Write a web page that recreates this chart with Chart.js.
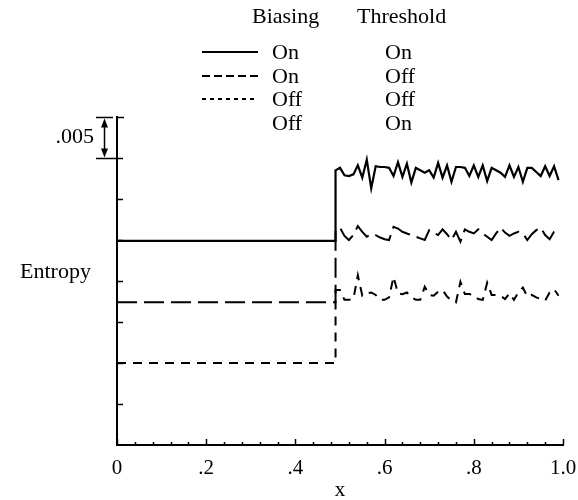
<!DOCTYPE html>
<html>
<head>
<meta charset="utf-8">
<script src="https://cdn.jsdelivr.net/npm/chart.js@4"></script>
<style>
  html, body { margin: 0; padding: 0; background: #fff; }
  #wrap { width: 578px; height: 500px; }
</style>
</head>
<body>
<div id="wrap"><canvas id="entropyChart" width="578" height="500"></canvas></div>
<script>
// x positions: flat part before the jump, wavy part after it
var xLeft = [0, 0.49];
var xRight = [0.49, 0.50, 0.51, 0.52, 0.53, 0.54, 0.55, 0.56, 0.57, 0.58,
  0.59, 0.60, 0.61, 0.62, 0.63, 0.64, 0.65, 0.66, 0.67, 0.68,
  0.69, 0.70, 0.71, 0.72, 0.73, 0.74, 0.75, 0.76, 0.77, 0.78,
  0.79, 0.80, 0.81, 0.82, 0.83, 0.84, 0.85, 0.86, 0.87, 0.88,
  0.89, 0.90, 0.91, 0.92, 0.93, 0.94, 0.95, 0.96, 0.97, 0.98, 0.99];

// biasing on / threshold on
var onOnLeft = [0.0249, 0.0249];
var onOnRight = [0.0335, 0.0338, 0.0329, 0.0328, 0.0330, 0.0341, 0.0326, 0.0348, 0.0313, 0.0340,
  0.0339, 0.0339, 0.0338, 0.0328, 0.0345, 0.0327, 0.0343, 0.0320, 0.0338, 0.0335,
  0.0332, 0.0335, 0.0326, 0.0344, 0.0326, 0.0341, 0.0321, 0.0339, 0.0339, 0.0338,
  0.0328, 0.0341, 0.0327, 0.0341, 0.0322, 0.0338, 0.0335, 0.0332, 0.0327, 0.0341,
  0.0327, 0.0339, 0.0321, 0.0338, 0.0338, 0.0333, 0.0328, 0.0340, 0.0328, 0.0340, 0.0323];

// biasing on / threshold off
var onOffLeft = [0.0174, 0.0174];
var onOffRight = [0.0262, 0.0265, 0.0255, 0.0250, 0.0256, 0.0267, 0.0260, 0.0254, 0.0257, 0.0256,
  0.0253, 0.0251, 0.0250, 0.0266, 0.0264, 0.0260, 0.0258, 0.0256, 0.0254, 0.0252,
  0.0250, 0.0262, 0.0259, 0.0256, 0.0263, 0.0257, 0.0250, 0.0260, 0.0248, 0.0263,
  0.0260, 0.0258, 0.0263, 0.0258, 0.0254, 0.0250, 0.0258, 0.0265, 0.0259, 0.0255,
  0.0258, 0.0260, 0.0258, 0.0250, 0.0257, 0.0262, 0.0265, 0.0256, 0.0251, 0.0260, 0.0264];

// biasing off / threshold off
var offOffLeft = [0.0100, 0.0100];
var offOffRight = [0.0189, 0.0189, 0.0177, 0.0177, 0.0178, 0.0207, 0.0182, 0.0185, 0.0186, 0.0183,
  0.0177, 0.0177, 0.0180, 0.0205, 0.0185, 0.0184, 0.0186, 0.0180, 0.0177, 0.0177,
  0.0193, 0.0183, 0.0182, 0.0187, 0.0189, 0.0181, 0.0176, 0.0174, 0.0199, 0.0184,
  0.0184, 0.0183, 0.0178, 0.0177, 0.0198, 0.0183, 0.0183, 0.0182, 0.0178, 0.0185,
  0.0177, 0.0186, 0.0192, 0.0181, 0.0183, 0.0180, 0.0178, 0.0176, 0.0186, 0.0190, 0.0182];

var xTicks = [0, 0.2, 0.4, 0.6, 0.8, 1.0];
var xTickLabels = ['0', '.2', '.4', '.6', '.8', '1.0'];
var yStep = 0.005;
var legendHead = ['Biasing', 'Threshold'];
var legendBiasing = ['On', 'On', 'Off', 'Off'];
var legendThreshold = ['On', 'Off', 'Off', 'On'];

var SERIF = '"Liberation Serif", "Times New Roman", serif';

function toPoints(xsA, ysA, xsB, ysB) {
  var pts = [];
  for (var i = 0; i < xsA.length; i++) pts.push({ x: xsA[i], y: ysA[i] });
  for (var j = 0; j < xsB.length; j++) pts.push({ x: xsB[j], y: ysB[j] });
  return pts;
}

var framePlugin = {
  id: 'frame',
  afterDraw: function (chart) {
    var ctx = chart.ctx;
    var xs = chart.scales.x, ys = chart.scales.y;
    var left = chart.chartArea.left, bottom = chart.chartArea.bottom;
    ctx.save();
    ctx.strokeStyle = '#000';
    ctx.fillStyle = '#000';
    ctx.lineWidth = 1.5;

    // inward ticks on the y axis
    for (var v = yStep; v < ys.max - 1e-9; v += yStep) {
      var py = Math.round(ys.getPixelForValue(v)) + 0.5;
      ctx.beginPath(); ctx.moveTo(left, py); ctx.lineTo(left + 6, py); ctx.stroke();
    }
    var top = Math.round(ys.getPixelForValue(ys.max)) + 0.5;
    ctx.beginPath(); ctx.moveTo(left - 1, top); ctx.lineTo(left + 7, top); ctx.stroke();

    // inward ticks on the x axis
    for (var i = 0; i <= 25; i++) {
      var px = Math.round(xs.getPixelForValue(i * 0.04)) + 0.5;
      var len = (i % 5 === 0) ? 6 : 3;
      ctx.beginPath(); ctx.moveTo(px, bottom); ctx.lineTo(px, bottom - len); ctx.stroke();
    }

    // .005 scale bar
    var yA = top, yB = Math.round(ys.getPixelForValue(ys.max - yStep)) + 0.5;
    ctx.beginPath();
    ctx.moveTo(96, yA); ctx.lineTo(113, yA);
    ctx.moveTo(96, yB); ctx.lineTo(left, yB);
    ctx.moveTo(104.5, yA + 6); ctx.lineTo(104.5, yB - 6);
    ctx.stroke();
    ctx.beginPath();
    ctx.moveTo(104.5, yA + 1); ctx.lineTo(101, yA + 10); ctx.lineTo(108, yA + 10); ctx.closePath();
    ctx.moveTo(104.5, yB - 1); ctx.lineTo(101, yB - 10); ctx.lineTo(108, yB - 10); ctx.closePath();
    ctx.fill();

    ctx.font = '22px ' + SERIF;
    ctx.textBaseline = 'middle';
    ctx.textAlign = 'right';
    ctx.fillText('.005', 94, 137);
    ctx.textAlign = 'left';
    ctx.fillText('Entropy', 20, 272);

    // legend table
    ctx.fillText(legendHead[0], 252, 17);
    ctx.fillText(legendHead[1], 357, 17);
    var rowY = [52, 76, 99, 123];
    var dashes = [[], [8, 4], [4, 4]];
    ctx.lineWidth = 2;
    for (var r = 0; r < rowY.length; r++) {
      if (r < dashes.length) {
        ctx.setLineDash(dashes[r]);
        ctx.beginPath(); ctx.moveTo(202, rowY[r]); ctx.lineTo(258, rowY[r]); ctx.stroke();
        ctx.setLineDash([]);
      }
      ctx.fillText(legendBiasing[r], 272, rowY[r] + 1);
      ctx.fillText(legendThreshold[r], 385, rowY[r] + 1);
    }
    ctx.restore();
  }
};

new Chart(document.getElementById('entropyChart').getContext('2d'), {
  type: 'line',
  data: {
    datasets: [
      { label: 'On / On', data: toPoints(xLeft, onOnLeft, xRight, onOnRight),
        borderColor: '#000', borderWidth: 2.2, pointRadius: 0, tension: 0 },
      { label: 'On / Off', data: toPoints(xLeft, onOffLeft, xRight, onOffRight),
        borderColor: '#000', borderWidth: 2, borderDash: [20, 7], pointRadius: 0, tension: 0 },
      { label: 'Off / Off', data: toPoints(xLeft, offOffLeft, xRight, offOffRight),
        borderColor: '#000', borderWidth: 2, borderDash: [9, 7], pointRadius: 0, tension: 0 }
    ]
  },
  options: {
    responsive: false,
    animation: false,
    layout: { padding: { top: 117, right: 15, left: 0, bottom: 0 } },
    plugins: { legend: { display: false }, tooltip: { enabled: false } },
    scales: {
      x: {
        type: 'linear', min: 0, max: 1,
        afterBuildTicks: function (scale) {
          scale.ticks = xTicks.map(function (v) { return { value: v }; });
        },
        afterFit: function (scale) {
          scale.height = 55;
          scale.paddingRight = 0;
          scale.paddingLeft = 0;
        },
        grid: { display: false, drawTicks: false },
        border: { display: true, color: '#000', width: 2 },
        ticks: {
          color: '#000', padding: 11, maxRotation: 0,
          font: { family: SERIF, size: 21 },
          callback: function (v, i) { return xTickLabels[i]; }
        },
        title: { display: true, text: 'x', color: '#000', padding: { top: 0, bottom: -3 },
          font: { family: SERIF, size: 21 } }
      },
      y: {
        type: 'linear', min: 0, max: 0.04,
        afterFit: function (scale) { scale.width = 117; },
        grid: { display: false, drawTicks: false },
        border: { display: true, color: '#000', width: 2 },
        ticks: { display: false }
      }
    }
  },
  plugins: [framePlugin]
});
</script>
</body>
</html>
